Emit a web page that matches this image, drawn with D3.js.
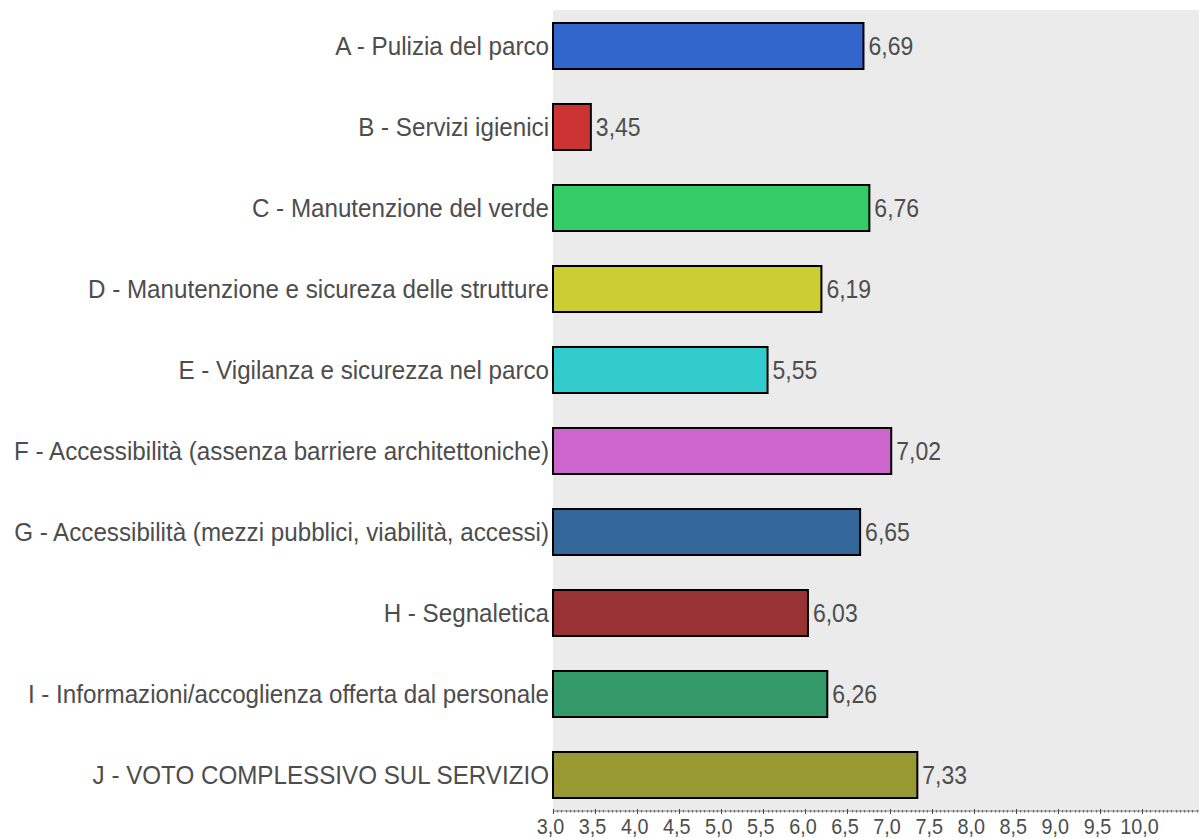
<!DOCTYPE html>
<html><head><meta charset="utf-8">
<script src="https://cdn.jsdelivr.net/npm/d3@7"></script>
<style>
html,body{margin:0;padding:0;background:#fff;}
svg{display:block;font-family:"Liberation Sans",Arial,Helvetica,sans-serif;}
</style>
</head><body>
<svg id="chart" width="1199" height="838"></svg>
<script>
const categories = [
  "A - Pulizia del parco",
  "B - Servizi igienici",
  "C - Manutenzione del verde",
  "D - Manutenzione e sicureza delle strutture",
  "E - Vigilanza e sicurezza nel parco",
  "F - Accessibilità (assenza barriere architettoniche)",
  "G - Accessibilità (mezzi pubblici, viabilità, accessi)",
  "H - Segnaletica",
  "I - Informazioni/accoglienza offerta dal personale",
  "J - VOTO COMPLESSIVO SUL SERVIZIO"
];
const values = [6.69, 3.45, 6.76, 6.19, 5.55, 7.02, 6.65, 6.03, 6.26, 7.33];
const colors = ["#3366cc","#cc3333","#33cc66","#cccc33","#33cccc","#cc66cc","#336699","#993333","#339966","#999933"];
const tickValues = [3.0,3.5,4.0,4.5,5.0,5.5,6.0,6.5,7.0,7.5,8.0,8.5,9.0,9.5,10.0];

(function () {
const svg = d3.select("#chart");
const W = 1199;
const plotLeft = 553, plotTop = 10, plotBottom = 810;

const x = d3.scaleLinear().domain([3, 10]).range([plotLeft, plotLeft + 7 * 84.14]);
const y = d3.scaleBand().domain(categories).range([5.5, 815.5]).paddingInner(0.432).paddingOuter(0.216);
const fmt = v => d3.format(".2f")(v).replace(".", ",");
const fmtTick = v => d3.format(".1f")(v).replace(".", ",");
const textCol = "#4d4d4d";

svg.append("rect").attr("x", plotLeft).attr("y", plotTop).attr("width", W - plotLeft).attr("height", plotBottom - plotTop).attr("fill", "#ebebeb");

svg.selectAll("rect.bar").data(values).enter().append("rect")
  .attr("class", "bar")
  .attr("x", x(3))
  .attr("y", (d, i) => y(categories[i]))
  .attr("width", d => x(d) - x(3))
  .attr("height", y.bandwidth())
  .attr("fill", (d, i) => colors[i])
  .attr("stroke", "#000").attr("stroke-width", 2);

svg.selectAll("text.cat").data(categories).enter().append("text")
  .attr("class", "cat")
  .attr("transform", d => `translate(${plotLeft - 4},${y(d) + y.bandwidth() / 2}) scale(1,1.03)`)
  .attr("dy", "0.36em")
  .attr("text-anchor", "end")
  .attr("font-size", 24.2)
  .attr("fill", textCol)
  .text(d => d);

svg.selectAll("text.val").data(values).enter().append("text")
  .attr("class", "val")
  .attr("transform", (d, i) => `translate(${x(d) + 5},${y(categories[i]) + y.bandwidth() / 2}) scale(1,1.1)`)
  .attr("dy", "0.36em")
  .attr("font-size", 23)
  .attr("fill", textCol)
  .text(d => fmt(d));

const axisY = 811;
const axisG = svg.append("g").attr("transform", `translate(0,${axisY})`);
axisG.append("line").attr("x1", plotLeft).attr("x2", W).attr("y1", 0).attr("y2", 0).attr("stroke", "#777").attr("stroke-width", 1);
const maxV = x.invert(W);
const minor = d3.range(3, maxV, 0.05);
axisG.selectAll("line.minor").data(minor).enter().append("line")
  .attr("x1", d => Math.round(x(d)) + 0.5).attr("x2", d => Math.round(x(d)) + 0.5)
  .attr("y1", -1).attr("y2", 1.5).attr("stroke", "#666").attr("stroke-width", 1);
axisG.selectAll("line.major").data(tickValues).enter().append("line")
  .attr("x1", d => Math.round(x(d)) + 0.5).attr("x2", d => Math.round(x(d)) + 0.5)
  .attr("y1", -2).attr("y2", 3).attr("stroke", "#444").attr("stroke-width", 1);
axisG.selectAll("text.tick").data(tickValues).enter().append("text")
  .attr("transform", d => `translate(${x(d) - 2.5},23) scale(0.9,1)`)
  .attr("text-anchor", "middle")
  .attr("font-size", 22)
  .attr("fill", textCol)
  .text(d => fmtTick(d));
})();
</script>
</body></html>
